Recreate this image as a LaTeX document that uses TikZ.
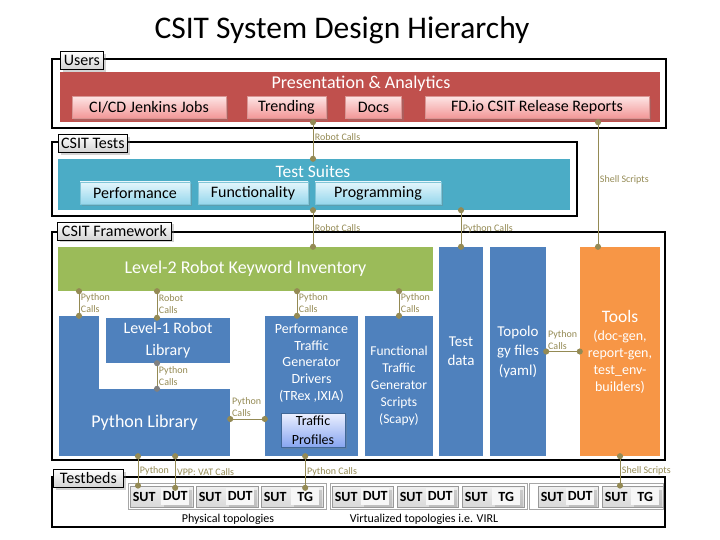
\documentclass[tikz,border=0pt]{standalone}
\usepackage{fontspec}
\setmainfont{Carlito}
\usetikzlibrary{positioning,arrows.meta,shadows}
\definecolor{barred}{HTML}{C0504D}
\definecolor{barteal}{HTML}{4BACC6}
\definecolor{bargreen}{HTML}{9BBB59}
\definecolor{boxblue}{HTML}{4F81BD}
\definecolor{boxorange}{HTML}{F79646}
\definecolor{callcol}{HTML}{948A54}
\definecolor{pinktop}{RGB}{253,228,228}
\definecolor{pinkbot}{RGB}{242,150,150}
\definecolor{cyantop}{RGB}{228,246,252}
\definecolor{cyanbot}{RGB}{150,215,236}
\definecolor{proftop}{RGB}{236,240,255}
\definecolor{profbot}{RGB}{135,165,240}
\newcommand{\fsz}[2]{\fontsize{#1}{#2}\selectfont}
\tikzset{
  frame/.style={draw, line width=2pt, inner sep=0pt},
  tab/.style={draw, line width=0.8pt, top color=white, bottom color=gray!35,
    drop shadow={opacity=0.35}, inner sep=0pt, minimum height=18pt, font=\fsz{16}{18}},
  bar/.style={inner sep=0pt, text=white},
  btnpink/.style={draw=barred!60, top color=pinktop, bottom color=pinkbot,
    drop shadow={opacity=0.3}, inner sep=0pt, minimum height=22pt, font=\fsz{16}{18}},
  btncyan/.style={draw=barteal!70, top color=cyantop, bottom color=cyanbot,
    drop shadow={opacity=0.3}, inner sep=0pt, minimum height=22pt, font=\fsz{16}{18}},
  col/.style={fill=boxblue, inner sep=0pt, text=white, align=center},
  coltxt/.style={text=white, align=center, inner sep=0pt},
  call/.style={draw=callcol, line width=0.9pt, {Circle[length=6pt]}-{Circle[length=6pt]},
    shorten <=-3pt, shorten >=-3pt},
  calltxt/.style={text=callcol, font=\fsz{10}{12}, align=left, inner sep=1.5pt},
  tgroup/.style={draw=gray!70, line width=0.6pt, fill=white, inner sep=0pt},
  tbox/.style={draw=gray!80, line width=0.8pt, top color=gray!12, bottom color=gray!30,
    inner sep=0pt, minimum height=21pt},
  tbtxt/.style={font=\bfseries\fsz{14}{16}, inner sep=0pt},
  tbin/.style={fill=gray!6, drop shadow={opacity=0.3}, font=\bfseries\fsz{14}{16},
    inner sep=0pt, minimum height=17pt, minimum width=28pt},
  grouptxt/.style={font=\fsz{12}{14}, inner sep=0pt}
}
\begin{document}
\begin{tikzpicture}[x=1pt,y=-1pt]
\useasboundingbox (0,0) rectangle (720,540);
\node[font=\fsz{31.5}{36}] (title) at (342,30) {CSIT System Design Hierarchy};

% frames
\node[frame, minimum width=614, minimum height=69] (users) at (359,93.5) {};
\node[frame, minimum width=525, minimum height=74] (tests) at (314.5,179) {};
\node[frame, minimum width=613, minimum height=228] (fw) at (358.5,346) {};
\node[frame, minimum width=613, minimum height=50] (beds) at (358.5,502) {};
\node[tab, minimum width=43, anchor=west] (tabusers) at (60,60.5) {Users};
\node[tab, minimum width=69, anchor=west] (tabtests) at (58,143.5) {CSIT Tests};
\node[tab, minimum width=114, anchor=west] (tabfw) at (57,231) {CSIT Framework};
\node[tab, minimum width=70, anchor=west] (tabbeds) at (53,478.5) {Testbeds};

% users
\node[bar, fill=barred, minimum width=600, minimum height=50] (pa) at (360,97) {};
\node[coltxt, font=\fsz{18}{20}] (patxt) at (361,84) {Presentation \& Analytics};
\node[btnpink, minimum width=154] (jenkins) at (149,107.5) {CI/CD Jenkins Jobs};
\node[btnpink, minimum width=79] (trending) at (286.5,107.5) {Trending};
\node[btnpink, minimum width=56] (docs) at (373.5,107.5) {Docs};
\node[btnpink, minimum width=224] (reports) at (537,107.5) {FD.io CSIT Release Reports};

% tests
\node[bar, fill=barteal, minimum width=512, minimum height=51] (suites) at (314,184.5) {};
\node[coltxt, font=\fsz{17.5}{20}] (suitestxt) at (313,172) {Test Suites};
\node[btncyan, minimum width=110] (perftest) at (135,193) {Performance};
\node[btncyan, minimum width=110] (functest) at (253,193) {Functionality};
\node[btncyan, minimum width=126] (progtest) at (378,193) {Programming};

% framework
\node[bar, fill=bargreen, minimum width=375, minimum height=44, font=\fsz{18}{20}] (kw2) at (245.5,269) {Level-2 Robot Keyword Inventory};
\node[col, minimum width=40, minimum height=73] (pycol) at (79,352.5) {};
\node[col, minimum width=171, minimum height=67, font=\fsz{18}{20}] (pylib) at (144.5,422.5) {Python Library};
\node[col, minimum width=124, minimum height=45, font=\fsz{16}{22}] (kw1) at (168,340.5) {Level-1 Robot\\Library};
\node[col, minimum width=93, minimum height=140] (perf) at (311.5,386) {};
\node[coltxt, anchor=north, font=\fsz{14}{16.8}] (perftxt) at (311.5,323.5) {Performance\\Traffic\\Generator\\Drivers\\(TRex ,IXIA)};
\node[draw=boxblue!80!black, top color=proftop, bottom color=profbot, drop shadow={opacity=0.3},
  minimum width=64, minimum height=34, inner sep=0pt, align=center, font=\fsz{14}{19}] (prof) at (313,430) {Traffic\\Profiles};
\node[col, minimum width=68, minimum height=140, font=\fsz{13.5}{17}] (func) at (399,386) {Functional\\Traffic\\Generator\\Scripts\\(Scapy)};
\node[col, minimum width=44, minimum height=209, font=\fsz{15}{19}] (tdata) at (461,351.5) {Test\\data};
\node[col, minimum width=56, minimum height=209, font=\fsz{15}{19.5}] (topo) at (518,351.5) {Topolo\\gy files\\(yaml)};
\node[col, fill=boxorange, minimum width=80, minimum height=209, font=\fsz{14}{17}] (tools) at (620,351.5)
  {{\fsz{17.5}{21}Tools}\\[1pt](doc-gen,\\report-gen,\\test\_env-\\builders)};

% testbeds
\node[tgroup, minimum width=198, minimum height=26] (phys) at (227,496) {};
\node[tgroup, minimum width=197, minimum height=26] (virt) at (428.5,496) {};
\node[tgroup, minimum width=134, minimum height=26] (misc) at (596,496) {};
\foreach \n/\x/\w/\d in {p1/161.5/63/DUT, p2/227/62/DUT, p3/292/62/TG,
    v1/362.5/61/DUT, v2/427.5/61/DUT, v3/493/62/TG, c1/568/60/DUT, c2/632.5/61/TG} {
  \node[tbox, minimum width=\w] (\n) at (\x,496.5) {};
  \node[tbtxt, anchor=west] (\n-sut) at ([xshift=3pt]\n.west) {SUT};
  \node[tbin, anchor=east] (\n-dut) at ([xshift=-4pt]\n.east) {\d};
}
\node[grouptxt] (physlbl) at (228,519) {Physical topologies};
\node[grouptxt] (virtlbl) at (424,519) {Virtualized topologies i.e. VIRL};

% calls
\draw[call] (313,0 |- pa.south) -- node[calltxt, right, pos=0.4] (c1lbl) {Robot Calls} (313,0 |- suites.north);
\draw[call] (598,0 |- pa.south) -- node[calltxt, right, pos=0.46] (c2lbl) {Shell Scripts} (598,0 |- tools.north);
\draw[call] (313,0 |- suites.south) -- node[calltxt, right] (c3lbl) {Robot Calls} (313,0 |- kw2.north);
\draw[call] (tdata.north |- suites.south) -- node[calltxt, right] (c4lbl) {Python Calls} (tdata.north);
\draw[call] (pycol.north |- kw2.south) -- node[calltxt, right] (c5lbl) {Python\\Calls} (pycol.north);
\draw[call] (157,0 |- kw2.south) -- node[calltxt, right] (c6lbl) {Robot\\Calls} (157,0 |- kw1.north);
\draw[call] (297,0 |- kw2.south) -- node[calltxt, right] (c7lbl) {Python\\Calls} (297,0 |- perf.north);
\draw[call] (func.north |- kw2.south) -- node[calltxt, right] (c8lbl) {Python\\Calls} (func.north);
\draw[call, {Circle[length=6pt,color=gray]}-{Circle[length=6pt,color=gray]}] (157,0 |- kw1.south) -- node[calltxt, right] (c9lbl) {Python\\Calls} (157,0 |- pylib.north);
\draw[call] (0,419 -| pylib.east) -- node[calltxt, anchor=south west, pos=0] (c10lbl) {Python\\Calls} (0,419 -| perf.west);
\draw[call] (topo.east) -- node[calltxt, anchor=south west, pos=0] (c11lbl) {Python\\Calls} (tools.west |- topo.east);
\draw[call] (138,0 |- pylib.south) -- node[calltxt, right] (c12lbl) {Python} (138,0 |- p1.north);
\draw[call] (p1-dut.north |- pylib.south) -- node[calltxt, right] (c13lbl) {VPP: VAT Calls} (p1-dut.north);
\draw[call] (p3-dut.north |- perf.south) -- node[calltxt, right] (c14lbl) {Python Calls} (p3-dut.north);
\draw[call] (tools.south) -- node[calltxt, right] (c15lbl) {Shell Scripts} (tools.south |- c2.north);
\end{tikzpicture}
\end{document}
